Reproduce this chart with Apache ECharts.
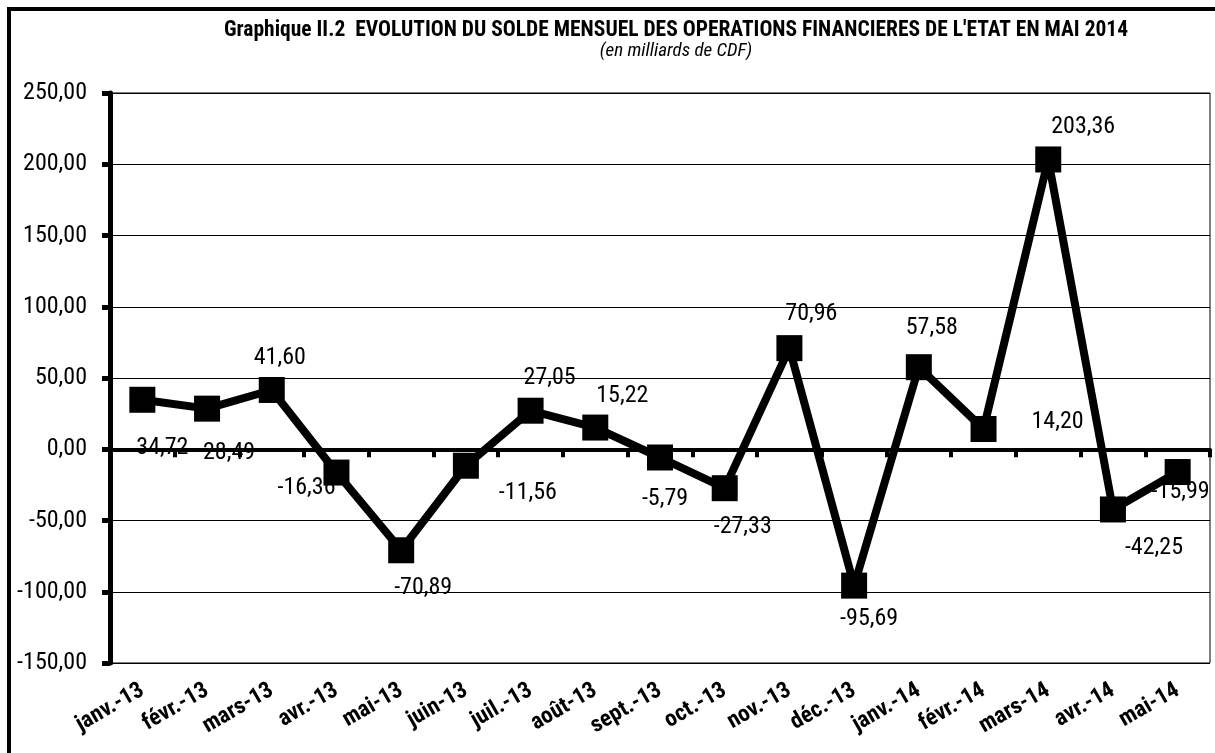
<!DOCTYPE html>
<html>
<head>
<meta charset="utf-8">
<script src="https://cdn.jsdelivr.net/npm/echarts@6/dist/echarts.min.js"></script>
<style>
  html, body { margin: 0; padding: 0; background: #fff; }
  #main { width: 1215px; height: 753px; }
</style>
</head>
<body>
<div id="main"></div>
<script>
// mois
var categories = ['janv.-13', 'févr.-13', 'mars-13', 'avr.-13', 'mai-13', 'juin-13', 'juil.-13', 'août-13',
  'sept.-13', 'oct.-13', 'nov.-13', 'déc.-13', 'janv.-14', 'févr.-14', 'mars-14', 'avr.-14', 'mai-14'];
// solde mensuel (milliards de CDF)
var soldes = [34.72, 28.49, 41.60, -16.36, -70.89, -11.56, 27.05, 15.22, -5.79, -27.33, 70.96, -95.69,
  57.58, 14.20, 203.36, -42.25, -15.99];
// décalage des étiquettes (comme dans Excel)
var labelOffsets = [[20, 48], [22, 44], [8, -32], [-30, 15], [22, 38], [62, 27], [19, -33], [27, -32],
  [5, 41], [18, 39], [22, -34], [15, 33], [13, -39], [74, -7], [35, -32], [41, 39], [3, 20]];
var yTicks = [-150, -100, -50, 0, 50, 100, 150, 200, 250];

var narrow = '"Roboto Condensed", "Liberation Sans", sans-serif';

function fmt(v) {
  return v.toFixed(2).replace('.', ',');
}

var myChart = echarts.init(document.getElementById('main'));

var seriesData = soldes.map(function (v, i) {
  return { value: v, label: { offset: labelOffsets[i] } };
});

var option = {
  backgroundColor: '#fff',
  animation: false,
  title: {
    text: "Graphique II.2  EVOLUTION DU SOLDE MENSUEL DES OPERATIONS FINANCIERES DE L'ETAT EN MAI 2014",
    subtext: '(en milliards de CDF)',
    left: 671,
    textAlign: 'center',
    top: 15,
    itemGap: 0,
    textStyle: { fontFamily: narrow, fontWeight: 'bold', fontSize: 21.5, color: '#000' },
    subtextStyle: { fontFamily: narrow, fontStyle: 'italic', fontSize: 19, color: '#000' }
  },
  graphic: [{
    type: 'rect',
    shape: { x: 9, y: 9, width: 1260, height: 800 },
    style: { fill: null, stroke: '#000', lineWidth: 4 },
    z: 10
  }],
  grid: {
    left: 110, right: 5, top: 93, bottom: 90,
    show: true, borderColor: '#000', borderWidth: 1
  },
  xAxis: [{
    type: 'category',
    data: categories,
    position: 'bottom',
    z: 3,
    axisLine: { onZero: true, lineStyle: { color: '#000', width: 4 } },
    axisTick: { show: true, inside: false, length: 8, lineStyle: { color: '#000', width: 4 } },
    axisLabel: { show: false }
  }, {
    type: 'category',
    data: categories,
    position: 'bottom',
    axisLine: { show: false, onZero: false },
    axisTick: { show: false },
    axisLabel: {
      rotate: 30, margin: 26, interval: 0,
      fontFamily: narrow, fontWeight: 'bold', fontSize: 23, color: '#000'
    }
  }],
  yAxis: {
    type: 'value',
    min: yTicks[0],
    max: yTicks[yTicks.length - 1],
    interval: 50,
    z: 3,
    axisLine: { show: true, lineStyle: { color: '#000', width: 5 } },
    axisTick: { show: true, length: 8, lineStyle: { color: '#000', width: 5 } },
    axisLabel: { formatter: fmt, margin: 23, fontFamily: narrow, fontSize: 24, color: '#000' },
    splitLine: { lineStyle: { color: '#000', width: 1 } }
  },
  series: [{
    name: 'Solde',
    type: 'line',
    xAxisIndex: 0,
    data: seriesData,
    symbol: 'rect',
    symbolSize: 26,
    lineStyle: { color: '#000', width: 8 },
    itemStyle: { color: '#000' },
    label: {
      show: true,
      position: 'inside',
      formatter: function (p) { return fmt(p.value); },
      fontFamily: narrow, fontSize: 24, color: '#000'
    }
  }]
};

myChart.setOption(option);
</script>
</body>
</html>
